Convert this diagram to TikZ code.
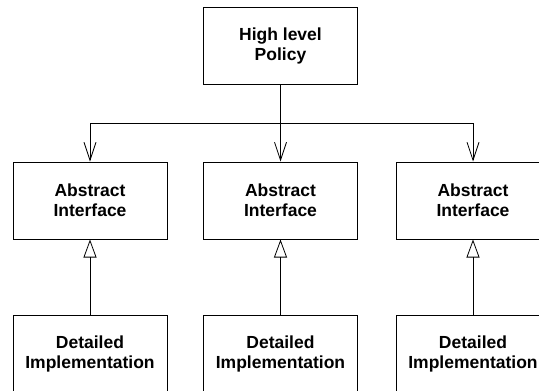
\documentclass[tikz,border=0pt]{standalone}
\usepackage{fontspec}
\setmainfont{Liberation Sans}
\usetikzlibrary{arrows.meta}
\tikzset{
  box/.style={draw,line width=1pt,minimum width=154pt,minimum height=77pt,
    inner sep=0pt,align=center,font=\bfseries\fontsize{17.5}{20}\selectfont},
  uses/.style={line width=0.8pt,-{Straight Barb[length=18pt,width=12pt,line width=0.8pt]}},
  realizes/.style={line width=0.8pt,-{Triangle[open,length=18pt,width=13pt,line width=0.8pt]}}
}
\begin{document}
\begin{tikzpicture}[x=1pt,y=-1pt]
\useasboundingbox (0,0) rectangle (539,391);
\node [box] (HLP) at (280.5,46) {High level\\Policy};
%
\node [box] (AI1) at (90,200.5) {Abstract\\Interface};
\node [box] (AI2) at (280.5,200.5) {Abstract\\Interface};
\node [box] (AI3) at (473,200.5) {Abstract\\Interface};
%
\node [box] (DI1) at (90,353.5) {Detailed\\Implementation};
\node [box] (DI2) at (280.5,353.5) {Detailed\\Implementation};
\node [box] (DI3) at (473,353.5) {Detailed\\Implementation};
%
\coordinate (bus) at (280.5,123);
\draw [uses] (HLP.south) |- (AI1.north |- bus) -- (AI1.north);
\draw [uses] (HLP.south) -- (AI2.north);
\draw [uses] (HLP.south) |- (AI3.north |- bus) -- (AI3.north);
%
\draw [realizes] (DI1) -- (AI1);
\draw [realizes] (DI2) -- (AI2);
\draw [realizes] (DI3) -- (AI3);
%
\end{tikzpicture}
\end{document}
